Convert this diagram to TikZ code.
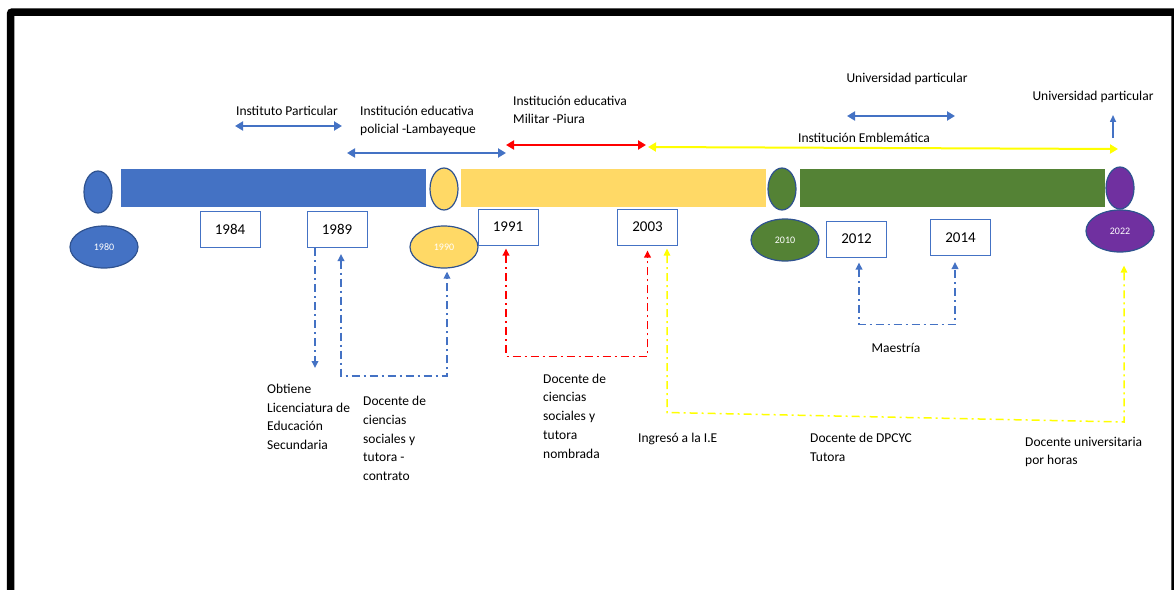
\documentclass[tikz,border=0pt]{standalone}
\usepackage{fontspec}
\setmainfont{Carlito}
\usepackage{tikz}
\usetikzlibrary{shapes,arrows.meta,positioning,calc}

\definecolor{tlblue}{HTML}{4472C4}
\definecolor{tlyellow}{HTML}{FFD966}
\definecolor{tlgreen}{HTML}{548235}
\definecolor{tlpurple}{HTML}{7030A0}
\definecolor{tledge}{HTML}{2F528F}
\definecolor{tlred}{HTML}{FF0000}
\definecolor{tlgold}{HTML}{FFFF00}

\begin{document}
\begin{tikzpicture}[
    x=1pt, y=-1pt,
    bar/.style={rectangle, minimum width=305pt, minimum height=38pt, inner sep=0},
    knob/.style={ellipse, draw=tledge, line width=1.2pt, minimum width=28pt, minimum height=42pt, inner sep=0},
    yeardot/.style={ellipse, draw=tledge, line width=1.2pt, minimum width=68pt, minimum height=42pt, inner sep=0, text=white, font=\fontsize{10}{12}\selectfont},
    yearbox/.style={rectangle, draw=tlblue, line width=1pt, fill=white, minimum width=60pt, minimum height=36pt, inner sep=0, font=\fontsize{15}{18}\selectfont},
    note/.style={inner sep=0, align=left, font=\fontsize{13.5}{18.7}\selectfont},
    period/.style={line width=2pt, {Triangle[length=8pt,width=9pt]}-{Triangle[length=8pt,width=9pt]}},
    trail/.style={line width=1.8pt, dash pattern=on 8pt off 4pt on 2pt off 4pt},
    dtip/.tip={Triangle[length=7pt,width=6.5pt]}
]
\useasboundingbox (0,0) rectangle (1174,589);
\clip (0,0) rectangle (1174,589);

% Frame
\draw[line width=7.5pt, rounded corners=2pt] (10.5,600) -- (10.5,12) -- (1175,12) -- (1175,600);

% Bars
\node[bar, fill=tlblue] (bar1) at (273.5,188) {};
\node[bar, fill=tlyellow] (bar2) at (613.5,188) {};
\node[bar, fill=tlgreen] (bar3) at (952.5,188) {};

% Small ellipses
\node[knob, fill=tlblue] (k1980) at (98,192) {};
\node[knob, fill=tlyellow] (k1990) at (444,189) {};
\node[knob, fill=tlgreen] (k2010) at (782,189) {};
\node[knob, fill=tlpurple] (k2022) at (1120,188) {};

% Year ellipses
\node[yeardot, fill=tlblue] (e1980) at (104,247) {1980};
\node[yeardot, fill=tlyellow] (e1990) at (444,247) {1990};
\node[yeardot, fill=tlgreen] (e2010) at (785,240) {2010};
\node[yeardot, fill=tlpurple] (e2022) at (1120,231) {2022};

% Year boxes
\node[yearbox] (b1984) at (230,229) {1984};
\node[yearbox] (b1989) at (337,229.5) {1989};
\node[yearbox] (b1991) at (508,227) {1991};
\node[yearbox] (b2003) at (647.5,227) {2003};
\node[yearbox] (b2012) at (856.5,239) {2012};
\node[yearbox] (b2014) at (960.5,237.5) {2014};

% Periods above the line
\node[note] (tInst) at (287,111) {Instituto Particular};
\coordinate (pInstA) at (235,126);
\coordinate (pInstB) at (342,126);
\draw[period, tlblue] (pInstA) -- (pInstB);

\node[note, anchor=west] (tLamb) at (360,121) {Institución educativa\\policial -Lambayeque};
\coordinate (pLambA) at (347,153);
\coordinate (pLambB) at (506,153);
\draw[period, tlblue] (pLambA) -- (pLambB);

\node[note, anchor=west] (tPiura) at (513,110) {Institución educativa\\Militar -Piura};
\coordinate (pPiuraA) at (506,145);
\coordinate (pPiuraB) at (646,145);
\draw[period, tlred] (pPiuraA) -- (pPiuraB);

\node[note] (tEmbl) at (864,138) {Institución Emblemática};
\coordinate (pEmblA) at (648,147);
\coordinate (pEmblB) at (1118,149);
\draw[period, tlgold] (pEmblA) -- (pEmblB);

\node[note] (tUniv) at (907,79) {Universidad particular};
\coordinate (pUnivA) at (847,116);
\coordinate (pUnivB) at (955,116);
\draw[period, tlblue] (pUnivA) -- (pUnivB);

\node[note] (tUniv2) at (1093,97) {Universidad particular};
\coordinate (pUniv2) at (1113,138);
\draw[line width=1.5pt, tlblue, -{Triangle[length=7pt,width=6pt]}] (pUniv2) -- ([xshift=20pt,yshift=-12pt]tUniv2.south);

% Notes below the line
\node[note, anchor=west] (nObt) at (267,417) {Obtiene\\Licenciatura de\\Educación\\Secundaria};
\node[note, anchor=west] (nContr) at (363,438.5) {Docente de\\ciencias\\sociales y\\tutora -\\contrato};
\node[note, anchor=west] (nNomb) at (543,416) {Docente de\\ciencias\\sociales y\\tutora\\nombrada};
\node[note, anchor=west] (nIngr) at (638,439) {Ingresó a la I.E};
\node[note] (nMaes) at (896,348) {Maestría};
\node[note, anchor=west] (nDpcyc) at (810,447.5) {Docente de DPCYC\\Tutora};
\node[note, anchor=west] (nUniv) at (1025,452) {Docente universitaria\\por horas};

% Dash-dot links
\coordinate (obtTip) at (315,368);
\draw[trail, tlblue, -{dtip}] ([xshift=-22pt]b1989.south) -- (obtTip);
\draw[trail, tlblue, {dtip}-{dtip}] ([xshift=4pt,yshift=-6pt]b1989.south) -- ++(0,122) -| ([xshift=3pt,yshift=-3pt]e1990.south);
\draw[trail, tlred, {dtip}-{dtip}] ([xshift=-2pt,yshift=-3pt]b1991.south) -- ++(0,108) -| ([yshift=-5pt]b2003.south);
\coordinate (uniCorner) at (1124,422);
\draw[trail, tlgold, line width=1.5pt, {dtip}-{dtip}] ([xshift=19.5pt,yshift=-3pt]b2003.south) -- ++(0,164) -- (uniCorner) -- ([xshift=4pt,yshift=-13pt]e2022.south);
\draw[trail, tlblue, {dtip}-{dtip}] ([xshift=2.5pt,yshift=-5pt]b2012.south) -- ++(0,62) -| ([xshift=-5.5pt,yshift=-6pt]b2014.south);

\end{tikzpicture}
\end{document}
